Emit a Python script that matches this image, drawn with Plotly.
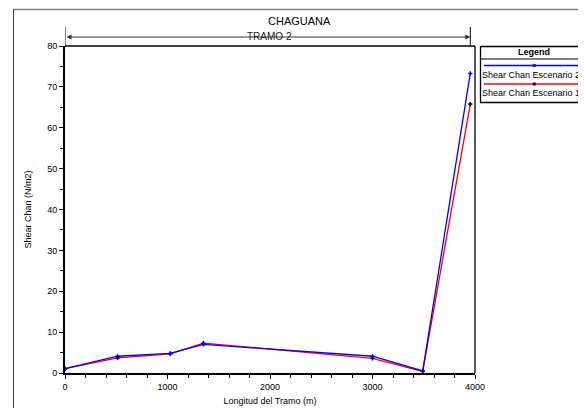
import plotly.graph_objects as go

x_esc2 = [0, 513, 1027, 1350, 3000, 3490, 3954]
y_esc2 = [1.05, 4.1, 4.8, 7.0, 4.1, 0.5, 73.3]
x_esc1 = [0, 513, 1027, 1350, 3000, 3490, 3954]
y_esc1 = [1.05, 3.7, 4.7, 7.3, 3.6, 0.4, 65.8]
name_esc2 = "Shear Chan Escenario 2"
name_esc1 = "Shear Chan Escenario 1"
title_text = "CHAGUANA"
tramo_text = "TRAMO 2"
x_title = "Longitud del Tramo (m)"
y_title = "Shear Chan (N/m2)"

FONT = "Liberation Sans, Arial, sans-serif"

fig = go.Figure()
fig.add_trace(go.Scatter(x=x_esc1, y=y_esc1, mode="lines+markers", name=name_esc1,
                         line=dict(color="#ff0000", width=1.3),
                         marker=dict(color="black", size=3, symbol="cross-thin",
                                     line=dict(color="black", width=1.5))))
fig.add_trace(go.Scatter(x=x_esc2, y=y_esc2, mode="lines+markers", name=name_esc2,
                         line=dict(color="#0000ff", width=1.3),
                         marker=dict(color="#0000ff", size=3, symbol="cross-thin",
                                     line=dict(color="#0000ff", width=1.5))))

# page offset (body margin) compensation
OFF = 8
W, H = 586 - OFF, 408 - OFF
PL, PR, PT, PB = 65, 475, 46, 373   # plot area in window pixels
L, T = PL - OFF, PT - OFF
R = W - (PR - OFF)
B = H - (PB - OFF)
pw, ph = PR - PL, PB - PT

def px(xp):
    return (xp - PL) / pw

def py(yp):
    return (PB - yp) / ph

shapes = []
annotations = []
# outer frame
shapes.append(dict(type="line", xref="paper", yref="paper", x0=px(13), x1=px(600), y0=py(9.5), y1=py(9.5),
                   line=dict(color="#808080", width=1.5)))
shapes.append(dict(type="line", xref="paper", yref="paper", x0=px(13.5), x1=px(13.5), y0=py(9), y1=py(420),
                   line=dict(color="#404040", width=1)))
# plot box top/right
shapes.append(dict(type="line", xref="paper", yref="paper", x0=0, x1=1, y0=1, y1=1,
                   line=dict(color="black", width=1.3)))
shapes.append(dict(type="line", xref="paper", yref="paper", x0=1, x1=1, y0=0, y1=1,
                   line=dict(color="black", width=1.3)))
# tramo markers
x_end = x_esc2[-1]
for xv in (x_esc2[0], x_end):
    shapes.append(dict(type="line", xref="x", yref="paper", x0=xv, x1=xv, y0=1, y1=py(27),
                       line=dict(color="black", width=1)))
annotations.append(dict(x=x_end, y=py(37), xref="x", yref="paper", ax=x_esc2[0], ay=0,
                        axref="x", ayref="pixel", text="", showarrow=True, arrowhead=2,
                        arrowside="end+start", arrowsize=1, arrowwidth=1, arrowcolor="#333333"))
annotations.append(dict(x=px(269), y=py(37), xref="paper", yref="paper", text=tramo_text, showarrow=False,
                        xanchor="center", font=dict(family=FONT, size=10, color="#222222"), yanchor="middle"))
annotations.append(dict(x=px(299), y=py(21), xref="paper", yref="paper", text=title_text, showarrow=False,
                        xanchor="center", font=dict(family=FONT, size=11, color="black"), yanchor="middle"))

# custom legend
lx0, lx1 = 480.5, 600
shapes.append(dict(type="rect", xref="paper", yref="paper", x0=px(lx0), x1=px(lx1), y0=py(46.5), y1=py(102.5),
                   line=dict(color="black", width=1.3), fillcolor="white"))
shapes.append(dict(type="line", xref="paper", yref="paper", x0=px(lx0), x1=px(lx1), y0=py(59), y1=py(59),
                   line=dict(color="black", width=1)))
annotations.append(dict(x=px(534), y=py(52.5), xref="paper", yref="paper", text="<b>Legend</b>", showarrow=False,
                        xanchor="center", font=dict(family=FONT, size=9, color="black"), yanchor="middle"))
for (name, col, mcol, ly, ty) in [(name_esc2, "#0000ff", "#0000ff", 65.5, 74.5),
                                   (name_esc1, "#ff0000", "black", 84, 93)]:
    shapes.append(dict(type="line", xref="paper", yref="paper", x0=px(484), x1=px(583), y0=py(ly), y1=py(ly),
                       line=dict(color=col, width=1.3)))
    shapes.append(dict(type="rect", xref="paper", yref="paper", x0=px(533), x1=px(535.5), y0=py(ly - 1.2),
                       y1=py(ly + 1.2), line=dict(color=mcol, width=0.5), fillcolor=mcol))
    annotations.append(dict(x=px(480), y=py(ty), xref="paper", yref="paper", text=name, showarrow=False,
                            xanchor="left", yanchor="middle", font=dict(family=FONT, size=9, color="black")))

fig.update_layout(
    width=W, height=H, margin=dict(l=L, r=R, t=T, b=B, autoexpand=False),
    paper_bgcolor="white", plot_bgcolor="white", showlegend=False,
    font=dict(family=FONT, size=9, color="black"),
    shapes=shapes, annotations=annotations,
)
fig.update_xaxes(range=[0, 4000], dtick=1000, tick0=0, showgrid=False, zeroline=False, automargin=False,
                 showline=True, linecolor="black", linewidth=2, ticks="outside", ticklen=4,
                 tickcolor="black", tickwidth=1,
                 minor=dict(dtick=200, ticks="outside", ticklen=3, tickcolor="black", showgrid=False),
                 tickfont=dict(family=FONT, size=9),
                 title=dict(text=x_title, font=dict(family=FONT, size=9), standoff=7))
fig.update_yaxes(range=[0, 80], dtick=10, tick0=0, showgrid=False, zeroline=False, automargin=False,
                 showline=True, linecolor="black", linewidth=2, ticks="outside", ticklen=4,
                 tickcolor="black", tickwidth=1,
                 minor=dict(dtick=5, ticks="outside", ticklen=3, tickcolor="black", showgrid=False),
                 tickfont=dict(family=FONT, size=9),
                 title=dict(text=y_title, font=dict(family=FONT, size=9), standoff=14))

fig.write_html("out.html")
